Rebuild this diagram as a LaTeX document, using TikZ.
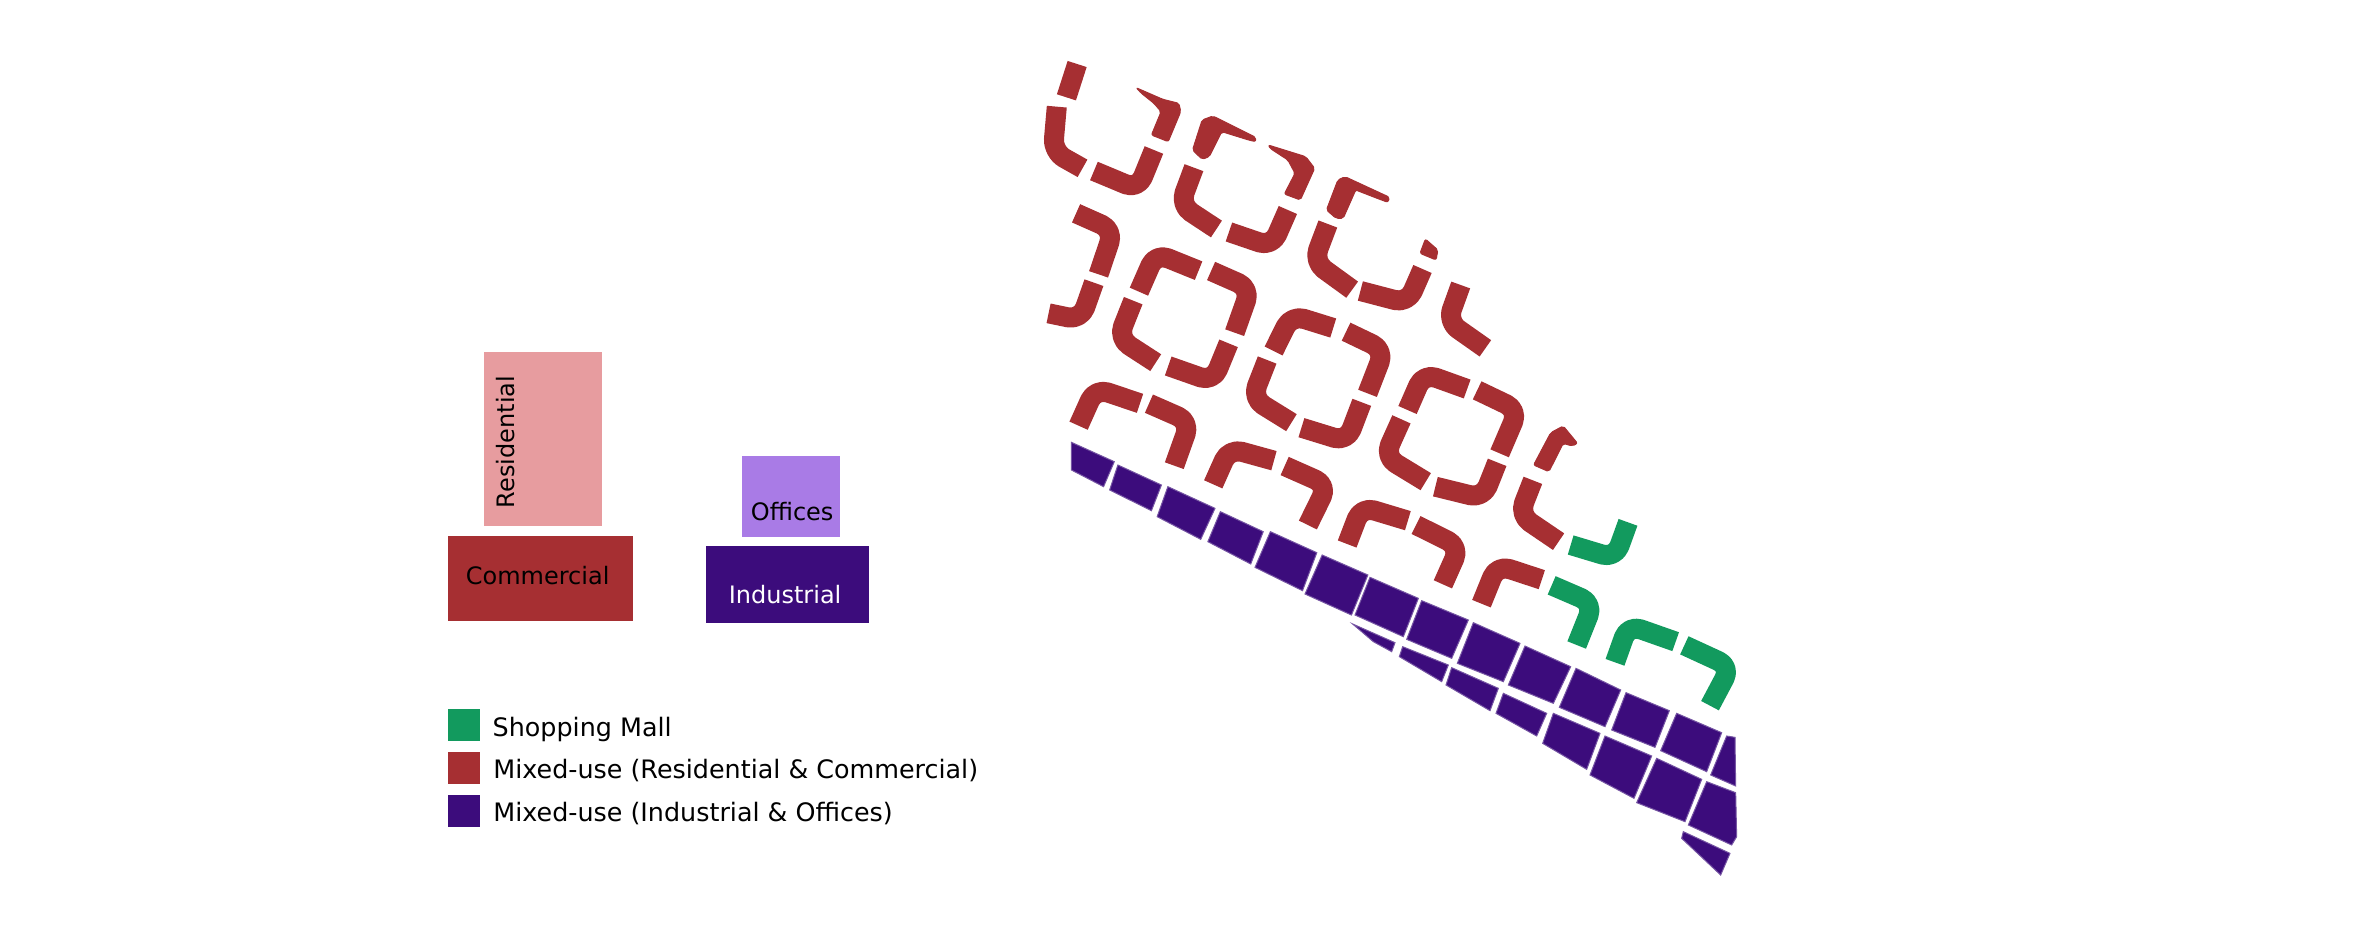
\documentclass[tikz,border=0pt]{standalone}
\usepackage{fontspec}
\setmainfont{DejaVu Sans}
\definecolor{rescol}{HTML}{E79C9F}
\definecolor{comcol}{HTML}{A62F32}
\definecolor{offcol}{HTML}{A97BE6}
\definecolor{indcol}{HTML}{3C0C7C}
\definecolor{malcol}{HTML}{129A5E}
\tikzset{
  blockband/.style={line width=20pt,line join=round,line cap=butt,rounded corners=13pt},
  redband/.style={blockband,draw=comcol},
  greenband/.style={blockband,draw=malcol},
  redshape/.style={fill=comcol,draw=comcol,line width=1pt,line join=round,rounded corners=2pt},
  cell/.style={fill=indcol,draw=indcol!70!white,line width=1pt},
  lab/.style={font=\fontsize{24}{28}\selectfont,anchor=base west,inner sep=0pt,text=black},
  leg/.style={lab,font=\fontsize{25.4}{30}\selectfont},
  zone/.style={draw=none},
  zoomA/.style={shift={(1020,40)},x=0.357143pt,y=-0.333333pt},
  zoomB/.style={shift={(1040,360)},x=0.357143pt,y=-0.333333pt},
  zoomC/.style={shift={(1340,500)},x=0.333333pt,y=-0.333333pt}
}
\begin{document}
\begin{tikzpicture}[x=1pt,y=-1pt]
\useasboundingbox (0,0) rectangle (2362,945);
\fill[white] (0,0) rectangle (2362,945);
% stacked blocks
\fill[zone,rescol] (483.9,352) rectangle (602.1,526);
\fill[zone,comcol] (447.9,536) rectangle (632.9,621);
\fill[zone,offcol] (742.1,456) rectangle (840,537);
\fill[zone,indcol] (706,546) rectangle (869,623);
\node[lab,rotate=90] (tres) at (514.3,508.3) {Residential};
\node[lab] (tcom) at (465.7,584) {Commercial};
\node[lab] (toff) at (750.7,520.3) {Offices};
\node[lab,text=white] (tind) at (728.6,603.3) {Industrial};
% legend
\fill[malcol] (447.9,709) rectangle (479.6,740.7);
\fill[comcol] (447.9,752.3) rectangle (479.6,784.3);
\fill[indcol] (447.9,795) rectangle (479.6,827);
\node[leg] (l1) at (492.5,736) {Shopping Mall};
\node[leg] (l2) at (493.2,778.3) {Mixed-use (Residential \& Commercial)};
\node[leg] (l3) at (493.2,821.7) {Mixed-use (Industrial \& Offices)};
% red blocks, upper rows
\begin{scope}[zoomA]
\draw[redband] (160,72)--(130,172);
\draw[redband] (103,200)--(92,335)--(175,385);
\fill[redshape] (325,143)--(400,178)--(445,190)--(450,215)--(415,305)--(368,285)--(395,215)--(375,190)--(340,160)--cycle;
\draw[redband] (375,330)--(330,448)--(207,393);
\fill[redshape] (483,330)--(510,240)--(540,228)--(660,292)--(660,305)--(640,300)--(565,275)--(530,350)--(510,358)--cycle;
\fill[redshape] (695,315)--(800,350)--(825,385)--(785,480)--(740,462)--(770,400)--(750,360)--(700,325)--cycle;
\draw[redband] (487,383)--(448,495)--(550,567);
\draw[redband] (750,510)--(705,620)--(585,576);
\fill[redshape] (858,510)--(890,420)--(910,410)--(1035,472)--(1030,487)--(1000,475)--(940,450)--(905,535)--(885,535)--cycle;
\draw[redband] (862,552)--(822,665)--(930,749);
\draw[redband] (1127,687)--(1085,790)--(953,753);
\fill[redshape] (1135,597)--(1170,630)--(1165,660)--(1120,640)--cycle;
\draw[redband] (1234,735)--(1197,845)--(1303,925);
\draw[redband] (157,520)--(262,570)--(220,703);
\draw[redband] (207,728)--(170,840)--(80,820);
\draw[redband] (333,755)--(380,640)--(500,692);
\draw[redband] (535,693)--(645,745)--(601,878);
\draw[redband] (317,782)--(275,895)--(380,968);
\draw[redband] (584,910)--(540,1025)--(415,978);
\draw[redband] (710,933)--(760,825)--(877,864);
\draw[redband] (913,875)--(1020,930)--(973,1060);
\draw[redband] (692,960)--(650,1075)--(760,1148);
\draw[redband] (957,1087)--(915,1205)--(788,1163);
\draw[redband] (1085,1110)--(1130,1000)--(1252,1047);
\draw[redband] (1280,1051)--(1395,1110)--(1343,1240);
\end{scope}
% red blocks, lower rows; first purple row
\begin{scope}[zoomB]
\draw[redband] (108,197)--(155,85)--(280,130);
\draw[redband] (305,131)--(420,185)--(376,317);
\draw[redband] (485,373)--(530,265)--(655,302);
\draw[redband] (685,318)--(805,375)--(750,495);
\draw[redband] (860,552)--(900,440)--(1030,482);
\draw[redband] (1053,495)--(1175,560)--(1128,673);
\draw[redband] (1236,731)--(1280,615)--(1405,659);
\draw[redband] (1012,178)--(965,290)--(1080,365);
\draw[redband] (1280,307)--(1240,415)--(1107,380);
\fill[redshape] (1382,315)--(1430,218)--(1465,198)--(1505,250)--(1490,258)--(1465,250)--(1425,335)--cycle;
\draw[redband] (1380,361)--(1342,465)--(1452,545);
\filldraw[cell] (88,247)--(208,305)--(178,380)--(88,330)--cycle;
\filldraw[cell] (218,315)--(340,375)--(312,452)--(195,390)--cycle;
\filldraw[cell] (358,380)--(490,445)--(450,538)--(328,470)--cycle;
\filldraw[cell] (505,455)--(625,515)--(590,612)--(470,545)--cycle;
\filldraw[cell] (645,515)--(775,578)--(735,692)--(602,622)--cycle;
\filldraw[cell] (790,585)--(918,645)--(872,765)--(742,702)--cycle;
\end{scope}
% shopping mall and remaining purple cells
\begin{scope}[zoomC]
\draw[greenband] (864,67)--(825,175)--(692,135);
\draw[greenband] (635,256)--(760,310)--(710,435);
\draw[greenband] (825,487)--(865,375)--(1007,425);
\draw[greenband] (1033,436)--(1172,500)--(1110,617);
\filldraw[cell] (90,232)--(235,295)--(190,410)--(45,345)--cycle;
\filldraw[cell] (245,302)--(385,360)--(335,475)--(200,418)--cycle;
\filldraw[cell] (400,368)--(540,430)--(490,545)--(352,490)--cycle;
\filldraw[cell] (555,438)--(692,500)--(640,610)--(505,555)--cycle;
\filldraw[cell] (708,505)--(842,570)--(795,680)--(658,622)--cycle;
\filldraw[cell] (858,578)--(988,632)--(945,742)--(815,690)--cycle;
\filldraw[cell] (1010,640)--(1145,698)--(1100,815)--(962,752)--cycle;
\filldraw[cell] (1160,708)--(1185,712)--(1187,858)--(1112,825)--cycle;
\filldraw[cell] (38,372)--(165,428)--(155,455)--(100,425)--cycle;
\filldraw[cell] (188,440)--(325,495)--(305,545)--(178,470)--cycle;
\filldraw[cell] (335,503)--(475,565)--(450,632)--(318,555)--cycle;
\filldraw[cell] (490,580)--(620,640)--(590,708)--(468,640)--cycle;
\filldraw[cell] (640,640)--(780,700)--(740,808)--(608,730)--cycle;
\filldraw[cell] (795,708)--(935,768)--(882,895)--(750,825)--cycle;
\filldraw[cell] (950,775)--(1085,838)--(1035,965)--(890,908)--cycle;
\filldraw[cell] (1100,845)--(1187,878)--(1190,1010)--(1175,1035)--(1045,975)--cycle;
\filldraw[cell] (1030,995)--(1170,1060)--(1142,1125)--(1025,1015)--cycle;
\end{scope}
\end{tikzpicture}
\end{document}
